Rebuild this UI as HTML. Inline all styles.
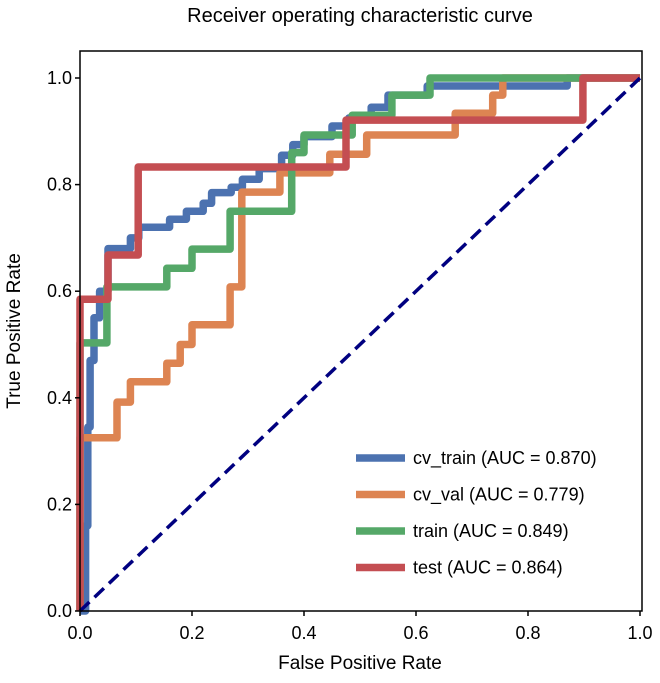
<!DOCTYPE html>
<html><head><meta charset="utf-8"><style>
body{margin:0;background:#fff}
svg text{font-family:"Liberation Sans",sans-serif;fill:#000}
</style></head><body>
<svg id="chart" width="660" height="678" xmlns="http://www.w3.org/2000/svg">
<text x="360" y="22" font-size="20" text-anchor="middle">Receiver operating characteristic curve</text>
<g id="plot"></g>
<text x="360" y="669" font-size="19" text-anchor="middle">False Positive Rate</text>
<text transform="translate(20,331) rotate(-90)" font-size="19" text-anchor="middle">True Positive Rate</text>
</svg>
<script>
const ticks = [0, 0.2, 0.4, 0.6, 0.8, 1.0];
const tickLabels = ["0.0", "0.2", "0.4", "0.6", "0.8", "1.0"];
const seriesNames = ["cv_train (AUC = 0.870)", "cv_val (AUC = 0.779)", "train (AUC = 0.849)", "test (AUC = 0.864)"];
const cvTrainFpr = [0,0.01,0.01,0.014,0.014,0.018,0.018,0.025,0.025,0.035,0.035,0.05,0.05,0.09,0.09,0.105,0.105,0.16,0.16,0.19,0.19,0.22,0.22,0.235,0.235,0.27,0.27,0.29,0.29,0.32,0.32,0.36,0.36,0.38,0.38,0.40,0.40,0.45,0.45,0.48,0.48,0.52,0.52,0.55,0.55,0.62,0.62,0.87,0.87,1];
const cvTrainTpr = [0,0,0.16,0.16,0.345,0.345,0.47,0.47,0.55,0.55,0.6,0.6,0.68,0.68,0.70,0.70,0.72,0.72,0.735,0.735,0.75,0.75,0.765,0.765,0.785,0.785,0.795,0.795,0.81,0.81,0.83,0.83,0.855,0.855,0.875,0.875,0.89,0.89,0.91,0.91,0.925,0.925,0.945,0.945,0.968,0.968,0.985,0.985,1,1];
const cvValFpr = [0,0,0.066,0.066,0.09,0.09,0.155,0.155,0.179,0.179,0.2,0.2,0.268,0.268,0.289,0.289,0.357,0.357,0.446,0.446,0.512,0.512,0.67,0.67,0.737,0.737,0.755,0.755,1];
const cvValTpr = [0,0.325,0.325,0.392,0.392,0.43,0.43,0.465,0.465,0.5,0.5,0.537,0.537,0.608,0.608,0.786,0.786,0.822,0.822,0.857,0.857,0.893,0.893,0.934,0.934,0.968,0.968,1,1];
const trainFpr = [0,0,0.048,0.048,0.155,0.155,0.2,0.2,0.268,0.268,0.378,0.378,0.40,0.40,0.486,0.486,0.557,0.557,0.625,0.625,1];
const trainTpr = [0,0.503,0.503,0.608,0.608,0.643,0.643,0.679,0.679,0.75,0.75,0.86,0.86,0.893,0.893,0.93,0.93,0.968,0.968,1,1];
const testFpr = [0,0,0.05,0.05,0.104,0.104,0.475,0.475,0.898,0.898,1];
const testTpr = [0,0.585,0.585,0.668,0.668,0.833,0.833,0.921,0.921,1,1];
const colors = ["#4c72b0","#dd8452","#55a868","#c44e52"];

const NS="http://www.w3.org/2000/svg";
const L=80,R=642,T=51,B=611, X1=640, Y1=78;
const xs=v=>L+v*(X1-L);
const ys=v=>B-v*(B-Y1);
const g=document.getElementById('plot');
function mk(tag,attrs){const e=document.createElementNS(NS,tag);for(const k in attrs)e.setAttribute(k,attrs[k]);g.appendChild(e);return e;}

const series=[[cvTrainFpr,cvTrainTpr],[cvValFpr,cvValTpr],[trainFpr,trainTpr],[testFpr,testTpr]];
const snames=["cv-train-curve","cv-val-curve","train-curve","test-curve"];
series.forEach((s,i)=>{
  const d=s[0].map((f,j)=>(j?'L':'M')+xs(f).toFixed(1)+' '+ys(s[1][j]).toFixed(1)).join(' ');
  const p=mk('path',{d:d,fill:'none',stroke:colors[i],'stroke-width':7.5,'stroke-linejoin':'round'});
  
  
});
const diag=mk('line',{x1:xs(0),y1:ys(0),x2:xs(1),y2:ys(1),stroke:'#000080','stroke-width':3.5,'stroke-dasharray':'13,7'});



const frame=mk('rect',{x:L,y:T,width:R-L,height:B-T,fill:'none',stroke:'#000','stroke-width':1.5});



ticks.forEach((t,i)=>{
  const xt=mk('line',{x1:xs(t),x2:xs(t),y1:B,y2:B+5,stroke:'#000','stroke-width':1.5});
  
  
  const xl=mk('text',{x:xs(t),y:B+28,'font-size':18,'text-anchor':'middle'});
  xl.textContent=tickLabels[i];
  
  
  const yt=mk('line',{x1:L-5,x2:L,y1:ys(t),y2:ys(t),stroke:'#000','stroke-width':1.5});
  
  
  const yl=mk('text',{x:L-8,y:ys(t)+6,'font-size':18,'text-anchor':'end'});
  yl.textContent=tickLabels[i];
  
  
});

seriesNames.forEach((n,i)=>{
  const y=458+i*36.5;
  const ln=mk('line',{x1:356,x2:405,y1:y,y2:y,stroke:colors[i],'stroke-width':7.5});
  
  
  const tx=mk('text',{x:413,y:y+6,'font-size':18});
  tx.textContent=n;
  
  
});
</script>
</body></html>
